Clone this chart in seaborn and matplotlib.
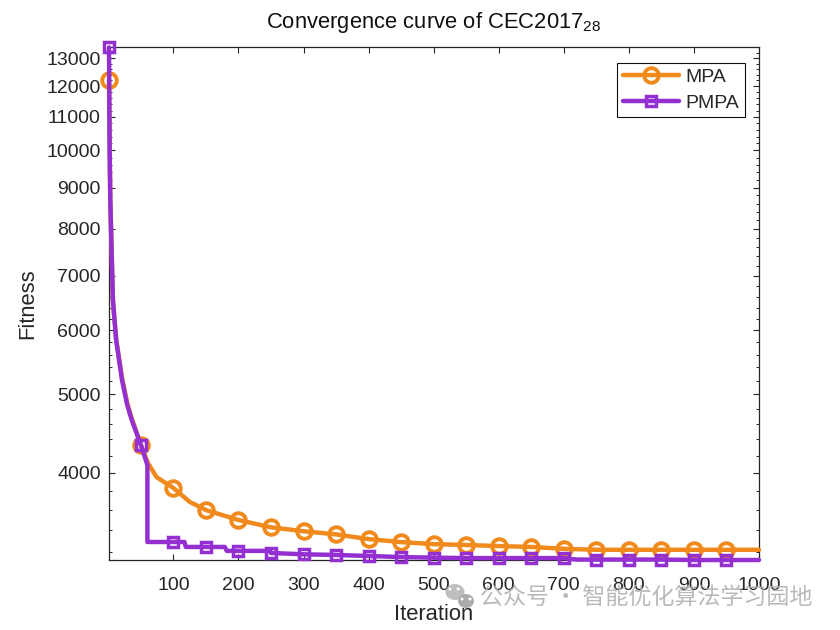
import matplotlib
matplotlib.use("Agg")
import matplotlib.pyplot as plt
from matplotlib.patches import Ellipse
from matplotlib.ticker import FixedLocator, FixedFormatter, NullFormatter
import seaborn as sns

mpa_iter = [1, 2, 3, 5, 7, 12, 21, 29, 36, 50, 61, 74, 100, 125, 150, 200, 250, 300, 350, 400,
            450, 500, 550, 600, 650, 700, 750, 800, 850, 900, 950, 1000]
mpa_val = [12215, 10012, 8684, 7537, 6536, 5850, 5240, 4880, 4670, 4332, 4114, 3954, 3833, 3685, 3600,
           3500, 3428, 3390, 3360, 3315, 3287, 3268, 3260, 3250, 3242, 3225, 3216, 3216, 3216, 3216,
           3216, 3216]

pmpa_iter = [1, 2, 3, 5, 7, 12, 21, 29, 36, 50, 60, 60, 100, 117, 119, 150, 179, 182, 200, 248, 250,
             300, 350, 400, 450, 500, 550, 600, 650, 700, 720, 750, 800, 850, 900, 950, 1000]
pmpa_val = [13400, 10012, 8684, 7537, 6536, 5836, 5209, 4853, 4648, 4332, 4092, 3288, 3288, 3288, 3242,
            3242, 3242, 3206, 3206, 3206, 3187, 3175, 3169, 3160, 3150, 3145, 3141, 3141, 3141, 3141,
            3128, 3128, 3128, 3128, 3124, 3124, 3124]

marker_iters = [1] + list(range(50, 1000, 50))
y_major = [4000, 5000, 6000, 7000, 8000, 9000, 10000, 11000, 12000, 13000]
y_minor = [v for v in range(3200, 13400, 200) if v not in y_major]
x_ticks = list(range(100, 1100, 100))

ORANGE = "#F08A1C"
PURPLE = "#9430D2"
INK = "#262626"

sns.set_theme(style="ticks")
plt.rcParams["font.family"] = ["Liberation Sans", "DejaVu Sans"]
plt.rcParams["mathtext.default"] = "regular"

fig = plt.figure(figsize=(8.4, 6.3), dpi=100, facecolor="white")
ax = fig.add_axes([109 / 840, 70 / 630, 650 / 840, 513 / 630])


def mark_index(iters):
    return [iters.index(m) for m in marker_iters]


sns.lineplot(x=mpa_iter, y=mpa_val, ax=ax, estimator=None, sort=False, color=ORANGE, lw=3.2,
             marker="o", ms=10.5, mfc="none", mec=ORANGE, mew=2.8, markevery=mark_index(mpa_iter),
             clip_on=False, label="MPA", zorder=3)
sns.lineplot(x=pmpa_iter, y=pmpa_val, ax=ax, estimator=None, sort=False, color=PURPLE, lw=3.2,
             marker="s", ms=6.5, mfc="none", mec=PURPLE, mew=2.5, markevery=mark_index(pmpa_iter),
             clip_on=False, label="PMPA", zorder=4)

ax.set_yscale("log")
ax.set_xlim(1, 1000)
ax.set_ylim(3124, 13416)
ax.set_xticks(x_ticks)
ax.yaxis.set_major_locator(FixedLocator(y_major))
ax.yaxis.set_major_formatter(FixedFormatter([str(v) for v in y_major]))
ax.yaxis.set_minor_locator(FixedLocator(y_minor))
ax.yaxis.set_minor_formatter(NullFormatter())
ax.tick_params(axis="both", which="major", direction="in", length=4.6, width=0.8, color=INK,
               labelsize=14, labelcolor=INK, top=True, right=True)
ax.tick_params(axis="y", which="minor", direction="in", length=2.4, width=0.7, color=INK,
               left=True, right=True)
ax.tick_params(axis="x", which="major", pad=12.5)
ax.tick_params(axis="y", which="major", pad=6)
for s in ax.spines.values():
    s.set_visible(True)
    s.set_linewidth(0.9)
    s.set_color(INK)

ax.set_xlabel("Iteration", fontsize=15.8, color=INK, labelpad=7)
ax.set_ylabel("Fitness", fontsize=15.8, color=INK, labelpad=6)
ax.set_title("Convergence curve of CEC2017$_{28}$", fontsize=15.8, color="#111111", pad=13.5)

leg = ax.legend(loc="upper right", bbox_to_anchor=(1 - 14 / 650, 1 - 16 / 513), borderaxespad=0,
                frameon=True, fancybox=False, framealpha=1, edgecolor="#111111", fontsize=14,
                handlelength=2.9, handletextpad=0.35, labelspacing=0.42, borderpad=0.28)
leg.get_frame().set_linewidth(0.8)
for t in leg.get_texts():
    t.set_color(INK)

ov = fig.add_axes([0, 0, 1, 1], facecolor="none", zorder=10)
ov.set_xlim(0, 840)
ov.set_ylim(630, 0)
ov.axis("off")
ov.add_patch(Ellipse((455, 592), 19, 16, color="#b4b4b4", alpha=0.85, lw=0))
ov.add_patch(Ellipse((466, 601), 16, 14, color="#a8a8a8", alpha=0.95, lw=0))
for cx, cy in [(450, 589), (458, 589), (462, 599), (470, 599)]:
    ov.add_patch(Ellipse((cx, cy), 3, 3, color="white", lw=0))
ov.text(480, 597, "公众号 · 智能优化算法学习园地", fontsize=16.6, color="#b2b2b2", va="center", ha="left",
        alpha=0.9, family=["Noto Sans CJK SC", "DejaVu Sans"])

fig.savefig("out.png", dpi=100, facecolor="white")
